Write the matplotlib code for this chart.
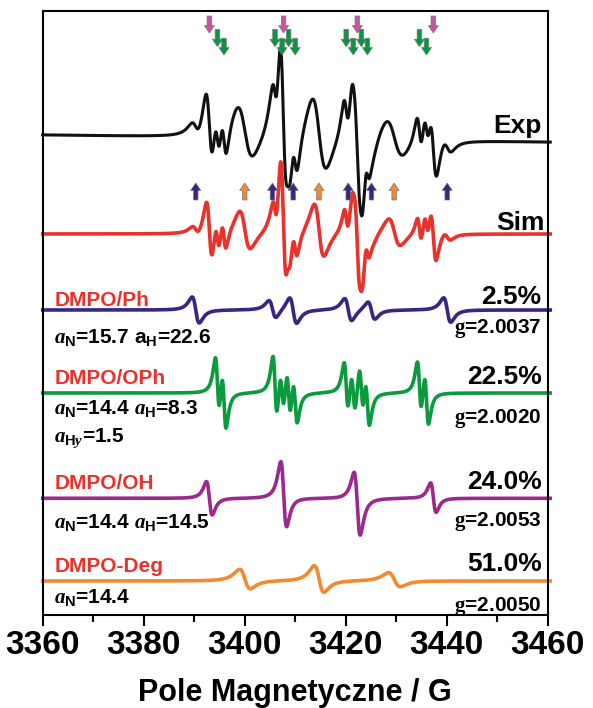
import numpy as np
import matplotlib
matplotlib.use("Agg")
import matplotlib.pyplot as plt
from matplotlib.patches import FancyArrow

# ---------------- data ----------------
x_ticks_major = [3360, 3380, 3400, 3420, 3440, 3460]

# DMPO/Ph : line centres (G), half peak-to-peak amplitudes, peak-to-peak width (G)
ph_pos = [3390.3, 3405.5, 3409.6, 3420.5, 3425.1, 3440.1]
ph_amp = [13.0, 8.8, 13.0, 11.2, 8.8, 12.2]
ph_mix = [0.0, 0.0, 0.0, 0.0, 0.0, 0.0]
ph_width = [1.4] * 6

# DMPO/OPh
oph_pos = [3394.6, 3395.9, 3406.0, 3407.4, 3408.7, 3410.0,
           3420.1, 3421.5, 3423.1, 3424.3, 3434.6, 3436.0]
oph_amp = [30, 30, 32, 22, 26, 24, 26, 22, 26, 26, 27, 27]
oph_mix = [0.0] * 12
oph_width = [0.85] * 12

# DMPO/OH
oh_pos = [3393.0, 3407.7, 3422.3, 3437.35]
oh_amp = [16.7, 32.5, 31.3, 14.7]
oh_mix = [0.0, 0.17, -0.23, 0.07]
oh_width = [1.15, 1.15, 1.2, 1.1]

# DMPO-Deg
deg_pos = [3400.0, 3414.7, 3429.6]
deg_amp = [9.7, 13.3, 7.0]
deg_mix = [0.25, 0.2, 0.25]
deg_width = [2.1, 1.9, 2.3]

# weights / broadening of the components in the simulated and experimental spectra
sim_weights = [0.35, 0.5, 1.8, 2.0]     # Ph, OPh, OH, Deg
exp_weights = [0.6, 0.75, 2.3, 2.8]
exp_broaden = [1.2, 1.25, 1.2, 1.45]

# texts
names = ["DMPO/Ph", "DMPO/OPh", "DMPO/OH", "DMPO-Deg"]
percents = ["2.5%", "22.5%", "24.0%", "51.0%"]
g_values = ["2.0037", "2.0020", "2.0053", "2.0050"]
hfc_texts = [r"$\mathit{a}_{\mathrm{N}}$=15.7 a$_{\mathrm{H}}$=22.6",
             r"$\mathit{a}_{\mathrm{N}}$=14.4 $\mathit{a}_{\mathrm{H}}$=8.3",
             r"$\mathit{a}_{\mathrm{N}}$=14.4 $\mathit{a}_{\mathrm{H}}$=14.5",
             r"$\mathit{a}_{\mathrm{N}}$=14.4"]
hfc_extra = r"$\mathit{a}_{\mathrm{H}\mathit{y}}$=1.5"

# ---------------- style ----------------
plt.rcParams["font.family"] = ["Liberation Sans", "DejaVu Sans"]
plt.rcParams["font.weight"] = "bold"
plt.rcParams["mathtext.fontset"] = "custom"
plt.rcParams["mathtext.rm"] = "Liberation Sans:bold"
plt.rcParams["mathtext.bf"] = "Liberation Sans:bold"
plt.rcParams["mathtext.it"] = "Liberation Serif:bold:italic"
plt.rcParams["mathtext.sf"] = "Liberation Serif:bold"
plt.rcParams["mathtext.default"] = "rm"

c_exp = "#111111"
c_sim = "#e8322b"
c_ph = "#3a2583"
c_oph = "#0c9a3e"
c_oh = "#9c2a8c"
c_deg = "#f28a32"
c_lab = "#e8322b"
c_pink = "#c8559e"
c_garr = "#0b9444"

field = np.linspace(3360.0, 3460.5, 6000)


def spectrum(pos, amp, mix, width, broaden=1.0):
    y = np.zeros_like(field)
    for p, a, m, w in zip(pos, amp, mix, width):
        hw = w * broaden * np.sqrt(3) / 2.0
        u = (field - p) / hw
        deriv = -u / (1 + u ** 2) ** 2 / 0.32476
        absn = 1.0 / (1 + u ** 2)
        y += a * (deriv + m * absn)
    return y


comp = [
    (ph_pos, ph_amp, ph_mix, ph_width),
    (oph_pos, oph_amp, oph_mix, oph_width),
    (oh_pos, oh_amp, oh_mix, oh_width),
    (deg_pos, deg_amp, deg_mix, deg_width),
]
comp_y = [spectrum(*c) for c in comp]
sim_y = sum(w * y for w, y in zip(sim_weights, comp_y))
exp_y = sum(w * spectrum(*c, broaden=b) for w, b, c in zip(exp_weights, exp_broaden, comp))

# ---------------- figure ----------------
fig = plt.figure(figsize=(5.93, 7.08), dpi=100)
ax = fig.add_axes([42.7 / 593, 1 - 615 / 708, 505 / 593, (615 - 10.7) / 708])
ax.set_xlim(3360, 3460)
ax.set_ylim(615, 10.7)

base_exp = 135 + (field - 3360) / 100 * 7
base_sim = 234
bases = [310, 393, 498.3, 581]
colors = [c_ph, c_oph, c_oh, c_deg]

ax.plot(field, base_exp - exp_y, color=c_exp, lw=2.2, clip_on=False, zorder=3)
ax.plot(field, base_sim - sim_y, color=c_sim, lw=2.6, clip_on=False, zorder=2)
for b, y, c in zip(bases, comp_y, colors):
    ax.plot(field, b - y, color=c, lw=2.6, clip_on=False, zorder=2)

# right-hand texts
xr = 3458.8
ax.text(xr, 133, "Exp", ha="right", va="baseline", fontsize=19, fontweight="bold", zorder=5)
ax.text(xr + 0.5, 230, "Sim", ha="right", va="baseline", fontsize=19, fontweight="bold", zorder=5)
pct_base = [304, 384.3, 489.3, 571]
g_base = [332.7, 422.7, 526, 611]
for pb, gb, pt, gv in zip(pct_base, g_base, percents, g_values):
    ax.text(xr, pb, pt, ha="right", va="baseline", fontsize=19, fontweight="bold")
    ax.text(xr, gb, r"$\mathsf{g}$=" + gv, ha="right", va="baseline", fontsize=15,
            fontweight="bold")

# left-hand texts
xl = 3362.4
name_base = [306, 384.3, 489, 571.7]
hfc_base = [343.3, 415, 528.3, 603.3]
for nb, hb, nm, ht in zip(name_base, hfc_base, names, hfc_texts):
    ax.text(xl, nb, nm, ha="left", va="baseline", fontsize=15, fontweight="bold", color=c_lab)
    ax.text(xl - 0.2, hb, ht, ha="left", va="baseline", fontsize=15, fontweight="bold")
ax.text(xl - 0.2, 441.7, hfc_extra, ha="left", va="baseline", fontsize=15, fontweight="bold")


# arrows
def down_arrow(x, ytop, ytip, color):
    ax.add_patch(FancyArrow(x, ytop, 0, ytip - ytop, width=0.9, head_width=2.0,
                            head_length=7.5, length_includes_head=True,
                            facecolor=color, edgecolor="#777777", lw=0.5, zorder=6))


for p in oh_pos:
    down_arrow(p, 16, 33, c_pink)
for i, p in enumerate(oph_pos):
    if i % 2 == 0:
        down_arrow(p, 29.3, 46.7, c_garr)
    else:
        down_arrow(p, 38.3, 55, c_garr)
for p in ph_pos:
    down_arrow(p, 200, 183, c_ph)
for p in deg_pos:
    down_arrow(p, 200, 183, c_deg)

# axes styling
ax.set_xticks(x_ticks_major)
ax.set_xticks(np.arange(3370, 3460, 20), minor=True)
ax.set_yticks([])
ax.tick_params(axis="x", which="major", direction="out", length=8, width=1.5,
               labelsize=24, pad=3)
ax.tick_params(axis="x", which="minor", direction="out", length=5, width=1.5)
for lab in ax.get_xticklabels():
    lab.set_fontweight("bold")
for s in ax.spines.values():
    s.set_linewidth(1.5)
ax.set_xlabel("Pole Magnetyczne / G", fontsize=22, fontweight="bold", labelpad=12)

fig.savefig("out.png", dpi=100)
